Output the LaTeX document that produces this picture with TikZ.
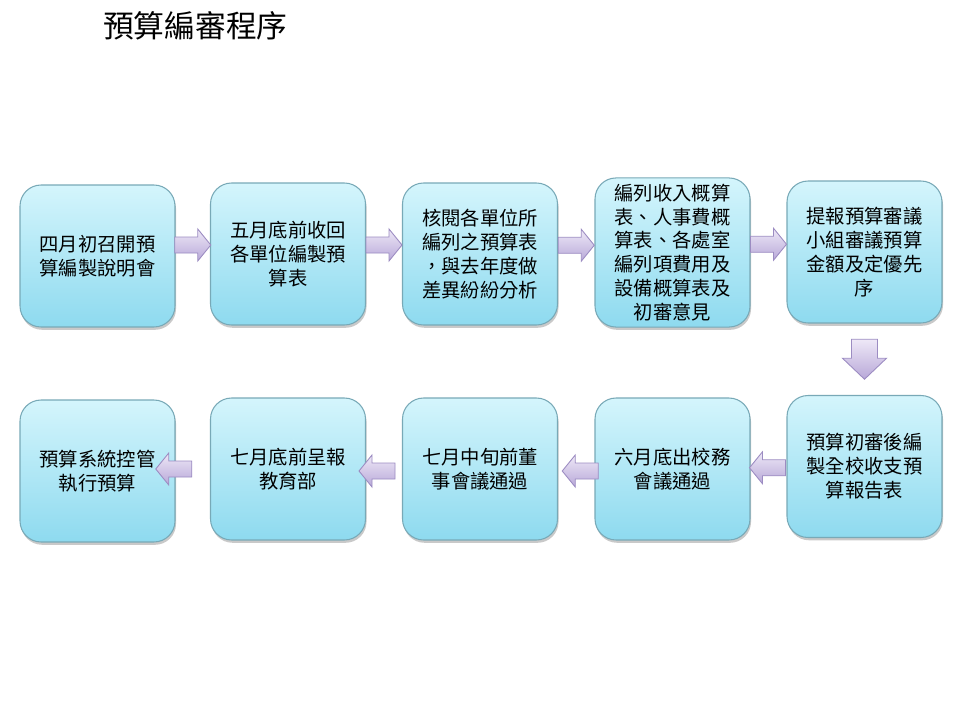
\documentclass[tikz,border=0pt]{standalone}
\usepackage{fontspec}
\setmainfont{Noto Sans CJK TC}
\definecolor{BoxTop}{HTML}{D4F5FC}
\definecolor{BoxBottom}{HTML}{8EDAEF}
\definecolor{BoxLine}{HTML}{78A9B7}
\definecolor{ArrowTop}{HTML}{EEE8F7}
\definecolor{ArrowBottom}{HTML}{B8A8D8}
\definecolor{ArrowLine}{HTML}{9C8CC2}
\usetikzlibrary{calc,shadows}

\tikzset{
  stepbox/.style={rectangle, rounded corners=0.42cm, draw=BoxLine, line width=0.6pt,
    top color=BoxTop, bottom color=BoxBottom,
    drop shadow={shadow xshift=0.6pt, shadow yshift=-1.6pt, opacity=0.35, fill=black!60},
    minimum width=3.1cm, minimum height=2.84cm, align=center,
    font=\fontsize{11}{13.6}\selectfont},
  arrowfill/.style={draw=ArrowLine, line width=0.5pt, top color=ArrowTop, bottom color=ArrowBottom},
  pics/harrow/.style={code={
    \draw[arrowfill] (-18,-8) -- (5,-8) -- (5,-16) -- (18,0) -- (5,16) -- (5,8) -- (-18,8) -- cycle;}},
  pics/varrow/.style={code={
    \draw[arrowfill] (-13,-20) -- (13,-20) -- (13,-1) -- (22,-1) -- (0,20) -- (-22,-1) -- (-13,-1) -- cycle;}},
}

\begin{document}
\begin{tikzpicture}[x=0.02cm, y=-0.02cm]
  \useasboundingbox[fill=white] (0,0) rectangle (960,720);
  %% title
  \node[font=\fontsize{17.5}{20}\selectfont, anchor=west] (title) at (97,26) {預算編審程序};
  %% top row
  \node[stepbox] (s1) at (97.5,256) {四月初召開預\\算編製說明會};
  \node[stepbox] (s2) at (288,254) {五月底前收回\\各單位編製預\\算表};
  \node[stepbox] (s3) at (480,254) {核閱各單位所\\編列之預算表\\，與去年度做\\差異紛紛分析};
  \node[stepbox] (s4) at (672.5,252.5) {編列收入概算\\表、人事費概\\算表、各處室\\編列項費用及\\設備概算表及\\初審意見};
  \node[stepbox] (s5) at (864.5,252) {提報預算審議\\小組審議預算\\金額及定優先\\序};
  %% bottom row
  \node[stepbox] (s6) at (864.5,466.5) {預算初審後編\\製全校收支預\\算報告表};
  \node[stepbox] (s7) at (672.5,469) {六月底出校務\\會議通過};
  \node[stepbox] (s8) at (480,469) {七月中旬前董\\事會議通過};
  \node[stepbox] (s9) at (288,469) {七月底前呈報\\教育部};
  \node[stepbox] (s10) at (97.5,471) {預算系統控管\\執行預算};
  %% arrows
  \pic at ($(s1.east)!0.5!(s2.west)+(0,-10)$) {harrow};
  \pic at ($(s2.east)!0.5!(s3.west)+(0,-9)$) {harrow};
  \pic at ($(s3.east)!0.5!(s4.west)+(0,-8)$) {harrow};
  \pic at ($(s4.east)!0.5!(s5.west)+(0,-8)$) {harrow};
  \pic at ($(s5.south)!0.5!(s6.north)$) {varrow};
  \pic[xscale=-1] at ($(s6.west)!0.5!(s7.east)+(-1,0)$) {harrow};
  \pic[xscale=-1] at ($(s7.west)!0.5!(s8.east)+(4,2)$) {harrow};
  \pic[xscale=-1] at ($(s8.west)!0.5!(s9.east)+(-7,2)$) {harrow};
  \pic[xscale=-1] at ($(s9.west)!0.5!(s10.east)+(-19,-1)$) {harrow};
\end{tikzpicture}
\end{document}
